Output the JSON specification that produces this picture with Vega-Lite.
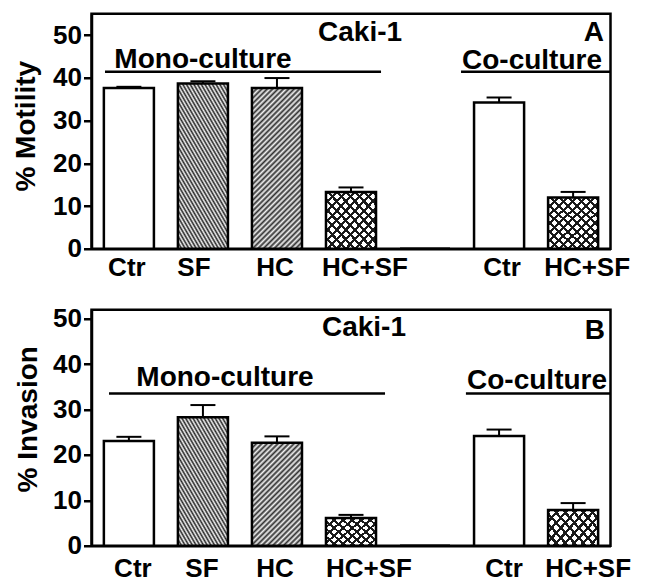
{
  "$schema": "https://vega.github.io/schema/vega-lite/v6.json",
  "padding": {"left": 10.5, "top": 11.75, "right": 0, "bottom": 0},
  "background": "white",
  "bounds": "flush",
  "spacing": 61,
  "config": {
    "font": "Liberation Sans",
    "view": {"stroke": "black", "strokeWidth": 2.5},
    "axis": {
      "grid": false,
      "domainColor": "black",
      "domainWidth": 2.5,
      "tickColor": "black",
      "tickWidth": 2.5,
      "labelFont": "Liberation Sans",
      "labelFontWeight": "bold",
      "labelFontSize": 26,
      "labelColor": "black",
      "titleFont": "Liberation Sans",
      "titleFontWeight": "bold",
      "titleFontSize": 28,
      "titleColor": "black"
    },
    "text": {"font": "Liberation Sans", "fontWeight": "bold", "fontSize": 28, "color": "black"}
  },
  "vconcat": [
    {
      "width": 519,
      "height": 235,
      "layer": [
        {
          "data": {"values": [
            {"slot": "1Ctr", "trt": "Ctr", "v": 37.6, "hi": 37.9},
            {"slot": "2SF", "trt": "SF", "v": 38.7, "hi": 39.2},
            {"slot": "3HC", "trt": "HC", "v": 37.6, "hi": 39.95},
            {"slot": "4HC+SF", "trt": "HC+SF", "v": 13.3, "hi": 14.35},
            {"slot": "5", "trt": "none", "v": 0, "hi": null},
            {"slot": "6Ctr", "trt": "Ctr", "v": 34.2, "hi": 35.4},
            {"slot": "7HC+SF", "trt": "HC+SF", "v": 12.0, "hi": 13.3}
          ]},
          "layer": [
            {
              "mark": {"type": "bar", "fill": "white", "strokeWidth": 0},
              "encoding": {
                "x": {"field": "slot", "type": "nominal", "title": null,
                  "scale": {"domain": ["1Ctr", "2SF", "3HC", "4HC+SF", "5", "6Ctr", "7HC+SF"], "paddingInner": 0.324, "paddingOuter": 0.167},
                  "axis": {"title": null, "ticks": false, "tickSize": 0, "labelPadding": 6, "labelAngle": 0, "labelExpr": "substring(datum.label, 1)",
                    "labelOffset": {"condition": [
                      {"test": "datum.value === '1Ctr'", "value": -2},
                      {"test": "datum.value === '2SF'", "value": -9},
                      {"test": "datum.value === '3HC'", "value": -2},
                      {"test": "datum.value === '4HC+SF'", "value": 14},
                      {"test": "datum.value === '6Ctr'", "value": 3},
                      {"test": "datum.value === '7HC+SF'", "value": 14}
                    ], "value": 0}}},
                "y": {"field": "v", "type": "quantitative", "title": "% Motility",
                  "scale": {"domain": [0, 55], "nice": false},
                  "axis": {"values": [0, 10, 20, 30, 40, 50], "tickSize": 8, "labelPadding": 2, "titleX": -57, "titleY": 112, "titleBaseline": "alphabetic", "titleAlign": "center", "titleAngle": 270}}
              }
            },
            {
              "transform": [{"filter": "datum.trt === 'SF'"}],
              "mark": {"type": "bar", "strokeWidth": 0, "fill": {"gradient": "linear", "x1": 0, "y1": 1, "x2": 0.6366, "y2": -0.2152, "stops": [
                {"offset": 0, "color": "#262626"}, {"offset": 0.0125, "color": "#f5f5f5"}, {"offset": 0.025, "color": "#262626"}, {"offset": 0.0375, "color": "#f5f5f5"},
                {"offset": 0.05, "color": "#262626"}, {"offset": 0.0625, "color": "#f5f5f5"}, {"offset": 0.075, "color": "#262626"}, {"offset": 0.0875, "color": "#f5f5f5"},
                {"offset": 0.1, "color": "#262626"}, {"offset": 0.1125, "color": "#f5f5f5"}, {"offset": 0.125, "color": "#262626"}, {"offset": 0.1375, "color": "#f5f5f5"},
                {"offset": 0.15, "color": "#262626"}, {"offset": 0.1625, "color": "#f5f5f5"}, {"offset": 0.175, "color": "#262626"}, {"offset": 0.1875, "color": "#f5f5f5"},
                {"offset": 0.2, "color": "#262626"}, {"offset": 0.2125, "color": "#f5f5f5"}, {"offset": 0.225, "color": "#262626"}, {"offset": 0.2375, "color": "#f5f5f5"},
                {"offset": 0.25, "color": "#262626"}, {"offset": 0.2625, "color": "#f5f5f5"}, {"offset": 0.275, "color": "#262626"}, {"offset": 0.2875, "color": "#f5f5f5"},
                {"offset": 0.3, "color": "#262626"}, {"offset": 0.3125, "color": "#f5f5f5"}, {"offset": 0.325, "color": "#262626"}, {"offset": 0.3375, "color": "#f5f5f5"},
                {"offset": 0.35, "color": "#262626"}, {"offset": 0.3625, "color": "#f5f5f5"}, {"offset": 0.375, "color": "#262626"}, {"offset": 0.3875, "color": "#f5f5f5"},
                {"offset": 0.4, "color": "#262626"}, {"offset": 0.4125, "color": "#f5f5f5"}, {"offset": 0.425, "color": "#262626"}, {"offset": 0.4375, "color": "#f5f5f5"},
                {"offset": 0.45, "color": "#262626"}, {"offset": 0.4625, "color": "#f5f5f5"}, {"offset": 0.475, "color": "#262626"}, {"offset": 0.4875, "color": "#f5f5f5"},
                {"offset": 0.5, "color": "#262626"}, {"offset": 0.5125, "color": "#f5f5f5"}, {"offset": 0.525, "color": "#262626"}, {"offset": 0.5375, "color": "#f5f5f5"},
                {"offset": 0.55, "color": "#262626"}, {"offset": 0.5625, "color": "#f5f5f5"}, {"offset": 0.575, "color": "#262626"}, {"offset": 0.5875, "color": "#f5f5f5"},
                {"offset": 0.6, "color": "#262626"}, {"offset": 0.6125, "color": "#f5f5f5"}, {"offset": 0.625, "color": "#262626"}, {"offset": 0.6375, "color": "#f5f5f5"},
                {"offset": 0.65, "color": "#262626"}, {"offset": 0.6625, "color": "#f5f5f5"}, {"offset": 0.675, "color": "#262626"}, {"offset": 0.6875, "color": "#f5f5f5"},
                {"offset": 0.7, "color": "#262626"}, {"offset": 0.7125, "color": "#f5f5f5"}, {"offset": 0.725, "color": "#262626"}, {"offset": 0.7375, "color": "#f5f5f5"},
                {"offset": 0.75, "color": "#262626"}, {"offset": 0.7625, "color": "#f5f5f5"}, {"offset": 0.775, "color": "#262626"}, {"offset": 0.7875, "color": "#f5f5f5"},
                {"offset": 0.8, "color": "#262626"}, {"offset": 0.8125, "color": "#f5f5f5"}, {"offset": 0.825, "color": "#262626"}, {"offset": 0.8375, "color": "#f5f5f5"},
                {"offset": 0.85, "color": "#262626"}, {"offset": 0.8625, "color": "#f5f5f5"}, {"offset": 0.875, "color": "#262626"}, {"offset": 0.8875, "color": "#f5f5f5"},
                {"offset": 0.9, "color": "#262626"}, {"offset": 0.9125, "color": "#f5f5f5"}, {"offset": 0.925, "color": "#262626"}, {"offset": 0.9375, "color": "#f5f5f5"},
                {"offset": 0.95, "color": "#262626"}, {"offset": 0.9625, "color": "#f5f5f5"}, {"offset": 0.975, "color": "#262626"}, {"offset": 0.9875, "color": "#f5f5f5"},
                {"offset": 1, "color": "#262626"}
              ]}},
              "encoding": {
                "x": {"field": "slot", "type": "nominal", "title": null},
                "y": {"field": "v", "type": "quantitative", "title": "% Motility"}
              }
            },
            {
              "transform": [{"filter": "datum.trt === 'HC'"}],
              "mark": {"type": "bar", "strokeWidth": 0, "fill": {"gradient": "linear", "x1": 0, "y1": 0, "x2": 0.3795, "y2": 1.2196, "stops": [
                {"offset": 0, "color": "#303030"}, {"offset": 0.0125, "color": "#f2f2f2"}, {"offset": 0.025, "color": "#303030"}, {"offset": 0.0375, "color": "#f2f2f2"},
                {"offset": 0.05, "color": "#303030"}, {"offset": 0.0625, "color": "#f2f2f2"}, {"offset": 0.075, "color": "#303030"}, {"offset": 0.0875, "color": "#f2f2f2"},
                {"offset": 0.1, "color": "#303030"}, {"offset": 0.1125, "color": "#f2f2f2"}, {"offset": 0.125, "color": "#303030"}, {"offset": 0.1375, "color": "#f2f2f2"},
                {"offset": 0.15, "color": "#303030"}, {"offset": 0.1625, "color": "#f2f2f2"}, {"offset": 0.175, "color": "#303030"}, {"offset": 0.1875, "color": "#f2f2f2"},
                {"offset": 0.2, "color": "#303030"}, {"offset": 0.2125, "color": "#f2f2f2"}, {"offset": 0.225, "color": "#303030"}, {"offset": 0.2375, "color": "#f2f2f2"},
                {"offset": 0.25, "color": "#303030"}, {"offset": 0.2625, "color": "#f2f2f2"}, {"offset": 0.275, "color": "#303030"}, {"offset": 0.2875, "color": "#f2f2f2"},
                {"offset": 0.3, "color": "#303030"}, {"offset": 0.3125, "color": "#f2f2f2"}, {"offset": 0.325, "color": "#303030"}, {"offset": 0.3375, "color": "#f2f2f2"},
                {"offset": 0.35, "color": "#303030"}, {"offset": 0.3625, "color": "#f2f2f2"}, {"offset": 0.375, "color": "#303030"}, {"offset": 0.3875, "color": "#f2f2f2"},
                {"offset": 0.4, "color": "#303030"}, {"offset": 0.4125, "color": "#f2f2f2"}, {"offset": 0.425, "color": "#303030"}, {"offset": 0.4375, "color": "#f2f2f2"},
                {"offset": 0.45, "color": "#303030"}, {"offset": 0.4625, "color": "#f2f2f2"}, {"offset": 0.475, "color": "#303030"}, {"offset": 0.4875, "color": "#f2f2f2"},
                {"offset": 0.5, "color": "#303030"}, {"offset": 0.5125, "color": "#f2f2f2"}, {"offset": 0.525, "color": "#303030"}, {"offset": 0.5375, "color": "#f2f2f2"},
                {"offset": 0.55, "color": "#303030"}, {"offset": 0.5625, "color": "#f2f2f2"}, {"offset": 0.575, "color": "#303030"}, {"offset": 0.5875, "color": "#f2f2f2"},
                {"offset": 0.6, "color": "#303030"}, {"offset": 0.6125, "color": "#f2f2f2"}, {"offset": 0.625, "color": "#303030"}, {"offset": 0.6375, "color": "#f2f2f2"},
                {"offset": 0.65, "color": "#303030"}, {"offset": 0.6625, "color": "#f2f2f2"}, {"offset": 0.675, "color": "#303030"}, {"offset": 0.6875, "color": "#f2f2f2"},
                {"offset": 0.7, "color": "#303030"}, {"offset": 0.7125, "color": "#f2f2f2"}, {"offset": 0.725, "color": "#303030"}, {"offset": 0.7375, "color": "#f2f2f2"},
                {"offset": 0.75, "color": "#303030"}, {"offset": 0.7625, "color": "#f2f2f2"}, {"offset": 0.775, "color": "#303030"}, {"offset": 0.7875, "color": "#f2f2f2"},
                {"offset": 0.8, "color": "#303030"}, {"offset": 0.8125, "color": "#f2f2f2"}, {"offset": 0.825, "color": "#303030"}, {"offset": 0.8375, "color": "#f2f2f2"},
                {"offset": 0.85, "color": "#303030"}, {"offset": 0.8625, "color": "#f2f2f2"}, {"offset": 0.875, "color": "#303030"}, {"offset": 0.8875, "color": "#f2f2f2"},
                {"offset": 0.9, "color": "#303030"}, {"offset": 0.9125, "color": "#f2f2f2"}, {"offset": 0.925, "color": "#303030"}, {"offset": 0.9375, "color": "#f2f2f2"},
                {"offset": 0.95, "color": "#303030"}, {"offset": 0.9625, "color": "#f2f2f2"}, {"offset": 0.975, "color": "#303030"}, {"offset": 0.9875, "color": "#f2f2f2"},
                {"offset": 1, "color": "#303030"}
              ]}},
              "encoding": {
                "x": {"field": "slot", "type": "nominal", "title": null},
                "y": {"field": "v", "type": "quantitative", "title": "% Motility"}
              }
            },
            {
              "transform": [{"filter": "datum.trt === 'HC+SF'"}],
              "mark": {"type": "bar", "strokeWidth": 0, "fill": {"gradient": "linear", "x1": 0, "y1": 0, "x2": 1.0027, "y2": 1.083, "stops": [
                {"offset": 0, "color": "#1a1a1a"}, {"offset": 0.0283, "color": "#1a1a1a"}, {"offset": 0.0283, "color": "rgba(255,255,255,0)"}, {"offset": 0.0833, "color": "rgba(255,255,255,0)"},
                {"offset": 0.0833, "color": "#1a1a1a"}, {"offset": 0.1116, "color": "#1a1a1a"}, {"offset": 0.1116, "color": "rgba(255,255,255,0)"}, {"offset": 0.1667, "color": "rgba(255,255,255,0)"},
                {"offset": 0.1667, "color": "#1a1a1a"}, {"offset": 0.195, "color": "#1a1a1a"}, {"offset": 0.195, "color": "rgba(255,255,255,0)"}, {"offset": 0.25, "color": "rgba(255,255,255,0)"},
                {"offset": 0.25, "color": "#1a1a1a"}, {"offset": 0.2783, "color": "#1a1a1a"}, {"offset": 0.2783, "color": "rgba(255,255,255,0)"}, {"offset": 0.3333, "color": "rgba(255,255,255,0)"},
                {"offset": 0.3333, "color": "#1a1a1a"}, {"offset": 0.3616, "color": "#1a1a1a"}, {"offset": 0.3616, "color": "rgba(255,255,255,0)"}, {"offset": 0.4167, "color": "rgba(255,255,255,0)"},
                {"offset": 0.4167, "color": "#1a1a1a"}, {"offset": 0.445, "color": "#1a1a1a"}, {"offset": 0.445, "color": "rgba(255,255,255,0)"}, {"offset": 0.5, "color": "rgba(255,255,255,0)"},
                {"offset": 0.5, "color": "#1a1a1a"}, {"offset": 0.5283, "color": "#1a1a1a"}, {"offset": 0.5283, "color": "rgba(255,255,255,0)"}, {"offset": 0.5833, "color": "rgba(255,255,255,0)"},
                {"offset": 0.5833, "color": "#1a1a1a"}, {"offset": 0.6116, "color": "#1a1a1a"}, {"offset": 0.6116, "color": "rgba(255,255,255,0)"}, {"offset": 0.6667, "color": "rgba(255,255,255,0)"},
                {"offset": 0.6667, "color": "#1a1a1a"}, {"offset": 0.695, "color": "#1a1a1a"}, {"offset": 0.695, "color": "rgba(255,255,255,0)"}, {"offset": 0.75, "color": "rgba(255,255,255,0)"},
                {"offset": 0.75, "color": "#1a1a1a"}, {"offset": 0.7783, "color": "#1a1a1a"}, {"offset": 0.7783, "color": "rgba(255,255,255,0)"}, {"offset": 0.8333, "color": "rgba(255,255,255,0)"},
                {"offset": 0.8333, "color": "#1a1a1a"}, {"offset": 0.8616, "color": "#1a1a1a"}, {"offset": 0.8616, "color": "rgba(255,255,255,0)"}, {"offset": 0.9167, "color": "rgba(255,255,255,0)"},
                {"offset": 0.9167, "color": "#1a1a1a"}, {"offset": 0.945, "color": "#1a1a1a"}, {"offset": 0.945, "color": "rgba(255,255,255,0)"}, {"offset": 1, "color": "rgba(255,255,255,0)"}
              ]}},
              "encoding": {
                "x": {"field": "slot", "type": "nominal", "title": null},
                "y": {"field": "v", "type": "quantitative", "title": "% Motility"}
              }
            },
            {
              "transform": [{"filter": "datum.trt === 'HC+SF'"}],
              "mark": {"type": "bar", "strokeWidth": 0, "fill": {"gradient": "linear", "x1": 0, "y1": 1, "x2": 1.0027, "y2": -0.083, "stops": [
                {"offset": 0, "color": "#1a1a1a"}, {"offset": 0.0283, "color": "#1a1a1a"}, {"offset": 0.0283, "color": "rgba(255,255,255,0)"}, {"offset": 0.0833, "color": "rgba(255,255,255,0)"},
                {"offset": 0.0833, "color": "#1a1a1a"}, {"offset": 0.1116, "color": "#1a1a1a"}, {"offset": 0.1116, "color": "rgba(255,255,255,0)"}, {"offset": 0.1667, "color": "rgba(255,255,255,0)"},
                {"offset": 0.1667, "color": "#1a1a1a"}, {"offset": 0.195, "color": "#1a1a1a"}, {"offset": 0.195, "color": "rgba(255,255,255,0)"}, {"offset": 0.25, "color": "rgba(255,255,255,0)"},
                {"offset": 0.25, "color": "#1a1a1a"}, {"offset": 0.2783, "color": "#1a1a1a"}, {"offset": 0.2783, "color": "rgba(255,255,255,0)"}, {"offset": 0.3333, "color": "rgba(255,255,255,0)"},
                {"offset": 0.3333, "color": "#1a1a1a"}, {"offset": 0.3616, "color": "#1a1a1a"}, {"offset": 0.3616, "color": "rgba(255,255,255,0)"}, {"offset": 0.4167, "color": "rgba(255,255,255,0)"},
                {"offset": 0.4167, "color": "#1a1a1a"}, {"offset": 0.445, "color": "#1a1a1a"}, {"offset": 0.445, "color": "rgba(255,255,255,0)"}, {"offset": 0.5, "color": "rgba(255,255,255,0)"},
                {"offset": 0.5, "color": "#1a1a1a"}, {"offset": 0.5283, "color": "#1a1a1a"}, {"offset": 0.5283, "color": "rgba(255,255,255,0)"}, {"offset": 0.5833, "color": "rgba(255,255,255,0)"},
                {"offset": 0.5833, "color": "#1a1a1a"}, {"offset": 0.6116, "color": "#1a1a1a"}, {"offset": 0.6116, "color": "rgba(255,255,255,0)"}, {"offset": 0.6667, "color": "rgba(255,255,255,0)"},
                {"offset": 0.6667, "color": "#1a1a1a"}, {"offset": 0.695, "color": "#1a1a1a"}, {"offset": 0.695, "color": "rgba(255,255,255,0)"}, {"offset": 0.75, "color": "rgba(255,255,255,0)"},
                {"offset": 0.75, "color": "#1a1a1a"}, {"offset": 0.7783, "color": "#1a1a1a"}, {"offset": 0.7783, "color": "rgba(255,255,255,0)"}, {"offset": 0.8333, "color": "rgba(255,255,255,0)"},
                {"offset": 0.8333, "color": "#1a1a1a"}, {"offset": 0.8616, "color": "#1a1a1a"}, {"offset": 0.8616, "color": "rgba(255,255,255,0)"}, {"offset": 0.9167, "color": "rgba(255,255,255,0)"},
                {"offset": 0.9167, "color": "#1a1a1a"}, {"offset": 0.945, "color": "#1a1a1a"}, {"offset": 0.945, "color": "rgba(255,255,255,0)"}, {"offset": 1, "color": "rgba(255,255,255,0)"}
              ]}},
              "encoding": {
                "x": {"field": "slot", "type": "nominal", "title": null},
                "y": {"field": "v", "type": "quantitative", "title": "% Motility"}
              }
            },
            {
              "mark": {"type": "bar", "fillOpacity": 0, "stroke": "black", "strokeWidth": 2.5},
              "encoding": {
                "x": {"field": "slot", "type": "nominal", "title": null},
                "y": {"field": "v", "type": "quantitative", "title": "% Motility"}
              }
            },
            {
              "transform": [{"filter": "datum.hi != null"}],
              "mark": {"type": "rule", "strokeWidth": 2, "color": "black"},
              "encoding": {
                "x": {"field": "slot", "type": "nominal", "title": null},
                "y": {"field": "v", "type": "quantitative", "title": "% Motility"},
                "y2": {"field": "hi"}
              }
            },
            {
              "transform": [{"filter": "datum.hi != null"}],
              "mark": {"type": "tick", "thickness": 2, "size": 25, "color": "black", "opacity": 1},
              "encoding": {
                "x": {"field": "slot", "type": "nominal", "title": null},
                "y": {"field": "hi", "type": "quantitative", "title": "% Motility"}
              }
            }
          ]
        },
        {
          "data": {"values": [
            {"ax": 0.182, "ax2": 3.905, "ay": 41.43},
            {"ax": 4.984, "ax2": 7.0, "ay": 41.43}
          ]},
          "mark": {"type": "rule", "strokeWidth": 2.5, "color": "black"},
          "encoding": {
            "x": {"field": "ax", "type": "quantitative", "scale": {"domain": [0, 7], "nice": false, "zero": false}, "axis": null},
            "x2": {"field": "ax2"},
            "y": {"field": "ay", "type": "quantitative", "title": "% Motility"}
          }
        },
        {
          "data": {"values": [
            {"ax": 3.622, "ay": 48.7, "txt": "Caki-1"},
            {"ax": 1.504, "ay": 42.36, "txt": "Mono-culture"},
            {"ax": 5.941, "ay": 41.97, "txt": "Co-culture"}
          ]},
          "mark": {"type": "text", "align": "center", "baseline": "alphabetic"},
          "encoding": {
            "x": {"field": "ax", "type": "quantitative", "scale": {"domain": [0, 7], "nice": false, "zero": false}, "axis": null},
            "y": {"field": "ay", "type": "quantitative", "title": "% Motility"},
            "text": {"field": "txt"}
          }
        },
        {
          "data": {"values": [
            {"ax": 6.913, "ay": 48.7, "txt": "A"}
          ]},
          "mark": {"type": "text", "align": "right", "baseline": "alphabetic"},
          "encoding": {
            "x": {"field": "ax", "type": "quantitative", "scale": {"domain": [0, 7], "nice": false, "zero": false}, "axis": null},
            "y": {"field": "ay", "type": "quantitative", "title": "% Motility"},
            "text": {"field": "txt"}
          }
        }
      ],
      "resolve": {"scale": {"x": "independent"}}
    },
    {
      "width": 519,
      "height": 236,
      "layer": [
        {
          "data": {"values": [
            {"slot": "1Ctr", "trt": "Ctr", "v": 23.1, "hi": 24.0},
            {"slot": "2SF", "trt": "SF", "v": 28.3, "hi": 31.0},
            {"slot": "3HC", "trt": "HC", "v": 22.7, "hi": 24.1},
            {"slot": "4HC+SF", "trt": "HC+SF", "v": 6.1, "hi": 6.8},
            {"slot": "5", "trt": "none", "v": 0, "hi": null},
            {"slot": "6Ctr", "trt": "Ctr", "v": 24.2, "hi": 25.6},
            {"slot": "7HC+SF", "trt": "HC+SF", "v": 7.9, "hi": 9.4}
          ]},
          "layer": [
            {
              "mark": {"type": "bar", "fill": "white", "strokeWidth": 0},
              "encoding": {
                "x": {"field": "slot", "type": "nominal", "title": null,
                  "scale": {"domain": ["1Ctr", "2SF", "3HC", "4HC+SF", "5", "6Ctr", "7HC+SF"], "paddingInner": 0.324, "paddingOuter": 0.167},
                  "axis": {"title": null, "ticks": false, "tickSize": 0, "labelPadding": 10, "labelAngle": 0, "labelExpr": "substring(datum.label, 1)",
                    "labelOffset": {"condition": [
                      {"test": "datum.value === '1Ctr'", "value": 4},
                      {"test": "datum.value === '2SF'", "value": -1},
                      {"test": "datum.value === '3HC'", "value": -2},
                      {"test": "datum.value === '4HC+SF'", "value": 18},
                      {"test": "datum.value === '6Ctr'", "value": 5},
                      {"test": "datum.value === '7HC+SF'", "value": 15}
                    ], "value": 0}}},
                "y": {"field": "v", "type": "quantitative", "title": "% Invasion",
                  "scale": {"domain": [0, 52], "nice": false},
                  "axis": {"values": [0, 10, 20, 30, 40, 50], "tickSize": 8, "labelPadding": 2, "titleX": -55.5, "titleY": 109, "titleBaseline": "alphabetic", "titleAlign": "center", "titleAngle": 270}}
              }
            },
            {
              "transform": [{"filter": "datum.trt === 'SF'"}],
              "mark": {"type": "bar", "strokeWidth": 0, "fill": {"gradient": "linear", "x1": 0, "y1": 1, "x2": 0.9253, "y2": -0.3708, "stops": [
                {"offset": 0, "color": "#262626"}, {"offset": 0.0125, "color": "#f5f5f5"}, {"offset": 0.025, "color": "#262626"}, {"offset": 0.0375, "color": "#f5f5f5"},
                {"offset": 0.05, "color": "#262626"}, {"offset": 0.0625, "color": "#f5f5f5"}, {"offset": 0.075, "color": "#262626"}, {"offset": 0.0875, "color": "#f5f5f5"},
                {"offset": 0.1, "color": "#262626"}, {"offset": 0.1125, "color": "#f5f5f5"}, {"offset": 0.125, "color": "#262626"}, {"offset": 0.1375, "color": "#f5f5f5"},
                {"offset": 0.15, "color": "#262626"}, {"offset": 0.1625, "color": "#f5f5f5"}, {"offset": 0.175, "color": "#262626"}, {"offset": 0.1875, "color": "#f5f5f5"},
                {"offset": 0.2, "color": "#262626"}, {"offset": 0.2125, "color": "#f5f5f5"}, {"offset": 0.225, "color": "#262626"}, {"offset": 0.2375, "color": "#f5f5f5"},
                {"offset": 0.25, "color": "#262626"}, {"offset": 0.2625, "color": "#f5f5f5"}, {"offset": 0.275, "color": "#262626"}, {"offset": 0.2875, "color": "#f5f5f5"},
                {"offset": 0.3, "color": "#262626"}, {"offset": 0.3125, "color": "#f5f5f5"}, {"offset": 0.325, "color": "#262626"}, {"offset": 0.3375, "color": "#f5f5f5"},
                {"offset": 0.35, "color": "#262626"}, {"offset": 0.3625, "color": "#f5f5f5"}, {"offset": 0.375, "color": "#262626"}, {"offset": 0.3875, "color": "#f5f5f5"},
                {"offset": 0.4, "color": "#262626"}, {"offset": 0.4125, "color": "#f5f5f5"}, {"offset": 0.425, "color": "#262626"}, {"offset": 0.4375, "color": "#f5f5f5"},
                {"offset": 0.45, "color": "#262626"}, {"offset": 0.4625, "color": "#f5f5f5"}, {"offset": 0.475, "color": "#262626"}, {"offset": 0.4875, "color": "#f5f5f5"},
                {"offset": 0.5, "color": "#262626"}, {"offset": 0.5125, "color": "#f5f5f5"}, {"offset": 0.525, "color": "#262626"}, {"offset": 0.5375, "color": "#f5f5f5"},
                {"offset": 0.55, "color": "#262626"}, {"offset": 0.5625, "color": "#f5f5f5"}, {"offset": 0.575, "color": "#262626"}, {"offset": 0.5875, "color": "#f5f5f5"},
                {"offset": 0.6, "color": "#262626"}, {"offset": 0.6125, "color": "#f5f5f5"}, {"offset": 0.625, "color": "#262626"}, {"offset": 0.6375, "color": "#f5f5f5"},
                {"offset": 0.65, "color": "#262626"}, {"offset": 0.6625, "color": "#f5f5f5"}, {"offset": 0.675, "color": "#262626"}, {"offset": 0.6875, "color": "#f5f5f5"},
                {"offset": 0.7, "color": "#262626"}, {"offset": 0.7125, "color": "#f5f5f5"}, {"offset": 0.725, "color": "#262626"}, {"offset": 0.7375, "color": "#f5f5f5"},
                {"offset": 0.75, "color": "#262626"}, {"offset": 0.7625, "color": "#f5f5f5"}, {"offset": 0.775, "color": "#262626"}, {"offset": 0.7875, "color": "#f5f5f5"},
                {"offset": 0.8, "color": "#262626"}, {"offset": 0.8125, "color": "#f5f5f5"}, {"offset": 0.825, "color": "#262626"}, {"offset": 0.8375, "color": "#f5f5f5"},
                {"offset": 0.85, "color": "#262626"}, {"offset": 0.8625, "color": "#f5f5f5"}, {"offset": 0.875, "color": "#262626"}, {"offset": 0.8875, "color": "#f5f5f5"},
                {"offset": 0.9, "color": "#262626"}, {"offset": 0.9125, "color": "#f5f5f5"}, {"offset": 0.925, "color": "#262626"}, {"offset": 0.9375, "color": "#f5f5f5"},
                {"offset": 0.95, "color": "#262626"}, {"offset": 0.9625, "color": "#f5f5f5"}, {"offset": 0.975, "color": "#262626"}, {"offset": 0.9875, "color": "#f5f5f5"},
                {"offset": 1, "color": "#262626"}
              ]}},
              "encoding": {
                "x": {"field": "slot", "type": "nominal", "title": null},
                "y": {"field": "v", "type": "quantitative", "title": "% Invasion"}
              }
            },
            {
              "transform": [{"filter": "datum.trt === 'HC'"}],
              "mark": {"type": "bar", "strokeWidth": 0, "fill": {"gradient": "linear", "x1": 0, "y1": 0, "x2": 0.8199, "y2": 1.689, "stops": [
                {"offset": 0, "color": "#303030"}, {"offset": 0.0125, "color": "#f2f2f2"}, {"offset": 0.025, "color": "#303030"}, {"offset": 0.0375, "color": "#f2f2f2"},
                {"offset": 0.05, "color": "#303030"}, {"offset": 0.0625, "color": "#f2f2f2"}, {"offset": 0.075, "color": "#303030"}, {"offset": 0.0875, "color": "#f2f2f2"},
                {"offset": 0.1, "color": "#303030"}, {"offset": 0.1125, "color": "#f2f2f2"}, {"offset": 0.125, "color": "#303030"}, {"offset": 0.1375, "color": "#f2f2f2"},
                {"offset": 0.15, "color": "#303030"}, {"offset": 0.1625, "color": "#f2f2f2"}, {"offset": 0.175, "color": "#303030"}, {"offset": 0.1875, "color": "#f2f2f2"},
                {"offset": 0.2, "color": "#303030"}, {"offset": 0.2125, "color": "#f2f2f2"}, {"offset": 0.225, "color": "#303030"}, {"offset": 0.2375, "color": "#f2f2f2"},
                {"offset": 0.25, "color": "#303030"}, {"offset": 0.2625, "color": "#f2f2f2"}, {"offset": 0.275, "color": "#303030"}, {"offset": 0.2875, "color": "#f2f2f2"},
                {"offset": 0.3, "color": "#303030"}, {"offset": 0.3125, "color": "#f2f2f2"}, {"offset": 0.325, "color": "#303030"}, {"offset": 0.3375, "color": "#f2f2f2"},
                {"offset": 0.35, "color": "#303030"}, {"offset": 0.3625, "color": "#f2f2f2"}, {"offset": 0.375, "color": "#303030"}, {"offset": 0.3875, "color": "#f2f2f2"},
                {"offset": 0.4, "color": "#303030"}, {"offset": 0.4125, "color": "#f2f2f2"}, {"offset": 0.425, "color": "#303030"}, {"offset": 0.4375, "color": "#f2f2f2"},
                {"offset": 0.45, "color": "#303030"}, {"offset": 0.4625, "color": "#f2f2f2"}, {"offset": 0.475, "color": "#303030"}, {"offset": 0.4875, "color": "#f2f2f2"},
                {"offset": 0.5, "color": "#303030"}, {"offset": 0.5125, "color": "#f2f2f2"}, {"offset": 0.525, "color": "#303030"}, {"offset": 0.5375, "color": "#f2f2f2"},
                {"offset": 0.55, "color": "#303030"}, {"offset": 0.5625, "color": "#f2f2f2"}, {"offset": 0.575, "color": "#303030"}, {"offset": 0.5875, "color": "#f2f2f2"},
                {"offset": 0.6, "color": "#303030"}, {"offset": 0.6125, "color": "#f2f2f2"}, {"offset": 0.625, "color": "#303030"}, {"offset": 0.6375, "color": "#f2f2f2"},
                {"offset": 0.65, "color": "#303030"}, {"offset": 0.6625, "color": "#f2f2f2"}, {"offset": 0.675, "color": "#303030"}, {"offset": 0.6875, "color": "#f2f2f2"},
                {"offset": 0.7, "color": "#303030"}, {"offset": 0.7125, "color": "#f2f2f2"}, {"offset": 0.725, "color": "#303030"}, {"offset": 0.7375, "color": "#f2f2f2"},
                {"offset": 0.75, "color": "#303030"}, {"offset": 0.7625, "color": "#f2f2f2"}, {"offset": 0.775, "color": "#303030"}, {"offset": 0.7875, "color": "#f2f2f2"},
                {"offset": 0.8, "color": "#303030"}, {"offset": 0.8125, "color": "#f2f2f2"}, {"offset": 0.825, "color": "#303030"}, {"offset": 0.8375, "color": "#f2f2f2"},
                {"offset": 0.85, "color": "#303030"}, {"offset": 0.8625, "color": "#f2f2f2"}, {"offset": 0.875, "color": "#303030"}, {"offset": 0.8875, "color": "#f2f2f2"},
                {"offset": 0.9, "color": "#303030"}, {"offset": 0.9125, "color": "#f2f2f2"}, {"offset": 0.925, "color": "#303030"}, {"offset": 0.9375, "color": "#f2f2f2"},
                {"offset": 0.95, "color": "#303030"}, {"offset": 0.9625, "color": "#f2f2f2"}, {"offset": 0.975, "color": "#303030"}, {"offset": 0.9875, "color": "#f2f2f2"},
                {"offset": 1, "color": "#303030"}
              ]}},
              "encoding": {
                "x": {"field": "slot", "type": "nominal", "title": null},
                "y": {"field": "v", "type": "quantitative", "title": "% Invasion"}
              }
            },
            {
              "transform": [{"filter": "datum.trt === 'HC+SF'"}],
              "mark": {"type": "bar", "strokeWidth": 0, "fill": {"gradient": "linear", "x1": 0, "y1": 0, "x2": 1.541, "y2": 0.9863, "stops": [
                {"offset": 0, "color": "#1a1a1a"}, {"offset": 0.0283, "color": "#1a1a1a"}, {"offset": 0.0283, "color": "rgba(255,255,255,0)"}, {"offset": 0.0833, "color": "rgba(255,255,255,0)"},
                {"offset": 0.0833, "color": "#1a1a1a"}, {"offset": 0.1116, "color": "#1a1a1a"}, {"offset": 0.1116, "color": "rgba(255,255,255,0)"}, {"offset": 0.1667, "color": "rgba(255,255,255,0)"},
                {"offset": 0.1667, "color": "#1a1a1a"}, {"offset": 0.195, "color": "#1a1a1a"}, {"offset": 0.195, "color": "rgba(255,255,255,0)"}, {"offset": 0.25, "color": "rgba(255,255,255,0)"},
                {"offset": 0.25, "color": "#1a1a1a"}, {"offset": 0.2783, "color": "#1a1a1a"}, {"offset": 0.2783, "color": "rgba(255,255,255,0)"}, {"offset": 0.3333, "color": "rgba(255,255,255,0)"},
                {"offset": 0.3333, "color": "#1a1a1a"}, {"offset": 0.3616, "color": "#1a1a1a"}, {"offset": 0.3616, "color": "rgba(255,255,255,0)"}, {"offset": 0.4167, "color": "rgba(255,255,255,0)"},
                {"offset": 0.4167, "color": "#1a1a1a"}, {"offset": 0.445, "color": "#1a1a1a"}, {"offset": 0.445, "color": "rgba(255,255,255,0)"}, {"offset": 0.5, "color": "rgba(255,255,255,0)"},
                {"offset": 0.5, "color": "#1a1a1a"}, {"offset": 0.5283, "color": "#1a1a1a"}, {"offset": 0.5283, "color": "rgba(255,255,255,0)"}, {"offset": 0.5833, "color": "rgba(255,255,255,0)"},
                {"offset": 0.5833, "color": "#1a1a1a"}, {"offset": 0.6116, "color": "#1a1a1a"}, {"offset": 0.6116, "color": "rgba(255,255,255,0)"}, {"offset": 0.6667, "color": "rgba(255,255,255,0)"},
                {"offset": 0.6667, "color": "#1a1a1a"}, {"offset": 0.695, "color": "#1a1a1a"}, {"offset": 0.695, "color": "rgba(255,255,255,0)"}, {"offset": 0.75, "color": "rgba(255,255,255,0)"},
                {"offset": 0.75, "color": "#1a1a1a"}, {"offset": 0.7783, "color": "#1a1a1a"}, {"offset": 0.7783, "color": "rgba(255,255,255,0)"}, {"offset": 0.8333, "color": "rgba(255,255,255,0)"},
                {"offset": 0.8333, "color": "#1a1a1a"}, {"offset": 0.8616, "color": "#1a1a1a"}, {"offset": 0.8616, "color": "rgba(255,255,255,0)"}, {"offset": 0.9167, "color": "rgba(255,255,255,0)"},
                {"offset": 0.9167, "color": "#1a1a1a"}, {"offset": 0.945, "color": "#1a1a1a"}, {"offset": 0.945, "color": "rgba(255,255,255,0)"}, {"offset": 1, "color": "rgba(255,255,255,0)"}
              ]}},
              "encoding": {
                "x": {"field": "slot", "type": "nominal", "title": null},
                "y": {"field": "v", "type": "quantitative", "title": "% Invasion"}
              }
            },
            {
              "transform": [{"filter": "datum.trt === 'HC+SF'"}],
              "mark": {"type": "bar", "strokeWidth": 0, "fill": {"gradient": "linear", "x1": 0, "y1": 1, "x2": 1.541, "y2": 0.0137, "stops": [
                {"offset": 0, "color": "#1a1a1a"}, {"offset": 0.0283, "color": "#1a1a1a"}, {"offset": 0.0283, "color": "rgba(255,255,255,0)"}, {"offset": 0.0833, "color": "rgba(255,255,255,0)"},
                {"offset": 0.0833, "color": "#1a1a1a"}, {"offset": 0.1116, "color": "#1a1a1a"}, {"offset": 0.1116, "color": "rgba(255,255,255,0)"}, {"offset": 0.1667, "color": "rgba(255,255,255,0)"},
                {"offset": 0.1667, "color": "#1a1a1a"}, {"offset": 0.195, "color": "#1a1a1a"}, {"offset": 0.195, "color": "rgba(255,255,255,0)"}, {"offset": 0.25, "color": "rgba(255,255,255,0)"},
                {"offset": 0.25, "color": "#1a1a1a"}, {"offset": 0.2783, "color": "#1a1a1a"}, {"offset": 0.2783, "color": "rgba(255,255,255,0)"}, {"offset": 0.3333, "color": "rgba(255,255,255,0)"},
                {"offset": 0.3333, "color": "#1a1a1a"}, {"offset": 0.3616, "color": "#1a1a1a"}, {"offset": 0.3616, "color": "rgba(255,255,255,0)"}, {"offset": 0.4167, "color": "rgba(255,255,255,0)"},
                {"offset": 0.4167, "color": "#1a1a1a"}, {"offset": 0.445, "color": "#1a1a1a"}, {"offset": 0.445, "color": "rgba(255,255,255,0)"}, {"offset": 0.5, "color": "rgba(255,255,255,0)"},
                {"offset": 0.5, "color": "#1a1a1a"}, {"offset": 0.5283, "color": "#1a1a1a"}, {"offset": 0.5283, "color": "rgba(255,255,255,0)"}, {"offset": 0.5833, "color": "rgba(255,255,255,0)"},
                {"offset": 0.5833, "color": "#1a1a1a"}, {"offset": 0.6116, "color": "#1a1a1a"}, {"offset": 0.6116, "color": "rgba(255,255,255,0)"}, {"offset": 0.6667, "color": "rgba(255,255,255,0)"},
                {"offset": 0.6667, "color": "#1a1a1a"}, {"offset": 0.695, "color": "#1a1a1a"}, {"offset": 0.695, "color": "rgba(255,255,255,0)"}, {"offset": 0.75, "color": "rgba(255,255,255,0)"},
                {"offset": 0.75, "color": "#1a1a1a"}, {"offset": 0.7783, "color": "#1a1a1a"}, {"offset": 0.7783, "color": "rgba(255,255,255,0)"}, {"offset": 0.8333, "color": "rgba(255,255,255,0)"},
                {"offset": 0.8333, "color": "#1a1a1a"}, {"offset": 0.8616, "color": "#1a1a1a"}, {"offset": 0.8616, "color": "rgba(255,255,255,0)"}, {"offset": 0.9167, "color": "rgba(255,255,255,0)"},
                {"offset": 0.9167, "color": "#1a1a1a"}, {"offset": 0.945, "color": "#1a1a1a"}, {"offset": 0.945, "color": "rgba(255,255,255,0)"}, {"offset": 1, "color": "rgba(255,255,255,0)"}
              ]}},
              "encoding": {
                "x": {"field": "slot", "type": "nominal", "title": null},
                "y": {"field": "v", "type": "quantitative", "title": "% Invasion"}
              }
            },
            {
              "mark": {"type": "bar", "fillOpacity": 0, "stroke": "black", "strokeWidth": 2.5},
              "encoding": {
                "x": {"field": "slot", "type": "nominal", "title": null},
                "y": {"field": "v", "type": "quantitative", "title": "% Invasion"}
              }
            },
            {
              "transform": [{"filter": "datum.hi != null"}],
              "mark": {"type": "rule", "strokeWidth": 2, "color": "black"},
              "encoding": {
                "x": {"field": "slot", "type": "nominal", "title": null},
                "y": {"field": "v", "type": "quantitative", "title": "% Invasion"},
                "y2": {"field": "hi"}
              }
            },
            {
              "transform": [{"filter": "datum.hi != null"}],
              "mark": {"type": "tick", "thickness": 2, "size": 25, "color": "black", "opacity": 1},
              "encoding": {
                "x": {"field": "slot", "type": "nominal", "title": null},
                "y": {"field": "hi", "type": "quantitative", "title": "% Invasion"}
              }
            }
          ]
        },
        {
          "data": {"values": [
            {"ax": 0.236, "ax2": 3.959, "ay": 33.56},
            {"ax": 5.05, "ax2": 7.0, "ay": 33.56}
          ]},
          "mark": {"type": "rule", "strokeWidth": 2.5, "color": "black"},
          "encoding": {
            "x": {"field": "ax", "type": "quantitative", "scale": {"domain": [0, 7], "nice": false, "zero": false}, "axis": null},
            "x2": {"field": "ax2"},
            "y": {"field": "ay", "type": "quantitative", "title": "% Invasion"}
          }
        },
        {
          "data": {"values": [
            {"ax": 3.675, "ay": 46.27, "txt": "Caki-1"},
            {"ax": 1.8, "ay": 35.25, "txt": "Mono-culture"},
            {"ax": 6.009, "ay": 34.6, "txt": "Co-culture"}
          ]},
          "mark": {"type": "text", "align": "center", "baseline": "alphabetic"},
          "encoding": {
            "x": {"field": "ax", "type": "quantitative", "scale": {"domain": [0, 7], "nice": false, "zero": false}, "axis": null},
            "y": {"field": "ay", "type": "quantitative", "title": "% Invasion"},
            "text": {"field": "txt"}
          }
        },
        {
          "data": {"values": [
            {"ax": 6.926, "ay": 45.6, "txt": "B"}
          ]},
          "mark": {"type": "text", "align": "right", "baseline": "alphabetic"},
          "encoding": {
            "x": {"field": "ax", "type": "quantitative", "scale": {"domain": [0, 7], "nice": false, "zero": false}, "axis": null},
            "y": {"field": "ay", "type": "quantitative", "title": "% Invasion"},
            "text": {"field": "txt"}
          }
        }
      ],
      "resolve": {"scale": {"x": "independent"}}
    }
  ]
}
